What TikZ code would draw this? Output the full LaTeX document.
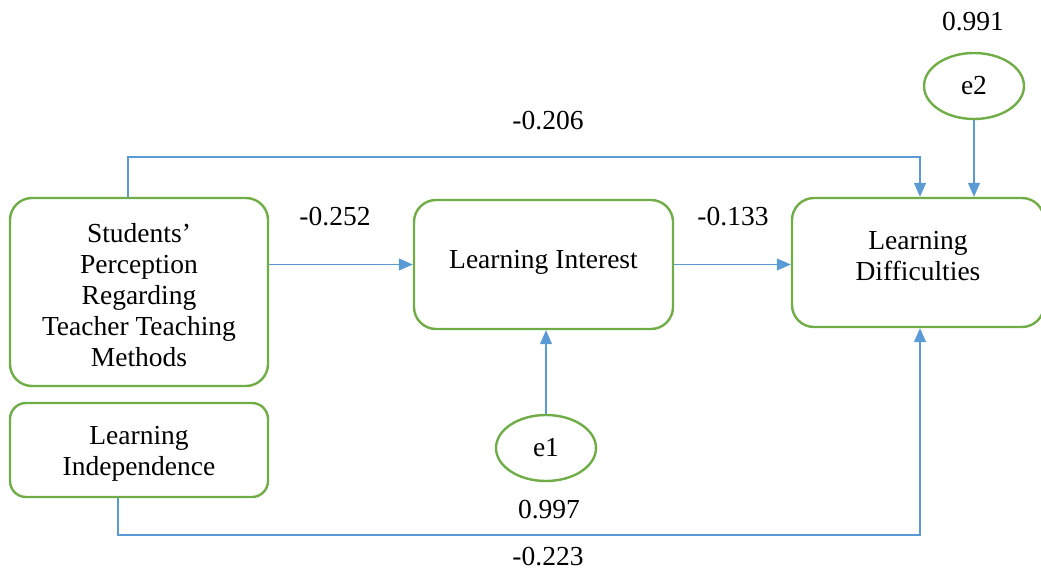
\documentclass[tikz,border=0pt]{standalone}
\usepackage{fontspec}
\setmainfont{Liberation Serif}
\usetikzlibrary{arrows.meta,shapes.geometric}
\definecolor{lblue}{HTML}{5B9BD5}
\definecolor{lgreen}{HTML}{70AD47}
\begin{document}
\begin{tikzpicture}[x=1pt,y=-1pt,
  every node/.style={font=\fontsize{27.5}{31}\selectfont},
  box/.style={draw=lgreen,line width=2.4pt,rounded corners=22pt,inner sep=0pt},
  err/.style={draw=lgreen,line width=2.4pt,ellipse,inner sep=0pt,minimum width=100pt,minimum height=66pt},
  conn/.style={draw=lblue,line width=1.2pt},
  arr/.style={conn,-{Triangle[length=14pt,width=12pt]}},
  lab/.style={inner sep=0pt},
  txt/.style={inner sep=0pt,align=center}]
\clip (0,0) rectangle (1041,570);
\node[box,minimum width=258pt,minimum height=188pt] (stp) at (139,292) {};
\node[box,rounded corners=16pt,minimum width=258pt,minimum height=94pt] (li) at (139,450) {};
\node[box,minimum width=259pt,minimum height=129pt] (lint) at (543.5,264.5) {};
\node[box,minimum width=252pt,minimum height=129pt] (ld) at (918,262.5) {};
\node[txt] (stpt) at ([yshift=-3.5pt]stp.center)
  {Students’\\Perception\\Regarding\\Teacher Teaching\\Methods};
\node[txt] (lit) at ([yshift=-4pt]li.center) {Learning\\Independence};
\node[txt] (lintt) at ([yshift=2.5pt]lint.center) {Learning Interest};
\node[txt] (ldt) at ([yshift=6.5pt]ld.center) {Learning\\Difficulties};
\node[err] (e2) at (974,86) {e2};
\node[err] (e1) at (546,448) {e1};
\coordinate (t1) at (128,157);
\coordinate (t2) at (920,157);
\coordinate (b1) at (118,535);
\coordinate (b2) at (920,535);
\draw[arr] (stp.north -| t1) -- (t1) -- (t2) -- (t2 |- ld.north);
\draw[arr] (e2.south) -- (e2.south |- ld.north);
\draw[arr] (stp.east |- lint.west) -- (lint.west);
\draw[arr] (lint.east) -- (ld.west |- lint.east);
\draw[arr] (e1.north) -- (e1.north |- lint.south);
\draw[arr] (li.south -| b1) -- (b1) -- (b2) -- (b2 |- ld.south);
\node[lab] (l991) at (973,22) {0.991};
\node[lab] (l206) at (548,121) {-0.206};
\node[lab] (l252) at (335,217) {-0.252};
\node[lab] (l133) at (733,217) {-0.133};
\node[lab] (l997) at (549,510) {0.997};
\node[lab] (l223) at (548,557) {-0.223};
\end{tikzpicture}
\end{document}
